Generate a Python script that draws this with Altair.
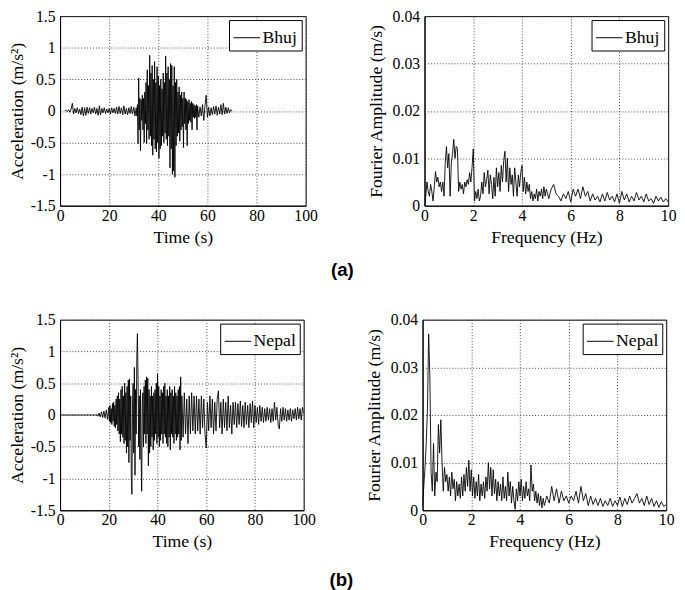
import altair as alt
import pandas as pd

# ---------------- Bhuj acceleration (m/s^2) ----------------
bhuj_acc_seg1_start, bhuj_acc_seg1_step = 2.0, 0.5
bhuj_acc_seg1 = [0.0, 0.01, -0.01, 0.02, -0.02, 0.03, 0.12, -0.05, 0.04, -0.03,
                 0.05, -0.04, 0.03, -0.06, 0.06, -0.08, 0.05, -0.07, 0.06, -0.04,
                 0.05, -0.05, 0.04, -0.03, 0.06, -0.05, 0.04, -0.07, 0.08, -0.06,
                 0.04, -0.03, 0.05, -0.04, 0.03, -0.03, 0.04, -0.05, 0.05, -0.03,
                 0.04, -0.04, 0.06, -0.05, 0.07, -0.04, 0.05, -0.06, 0.08, -0.05,
                 0.04, -0.06, 0.05, -0.04, 0.07, -0.05, 0.06, -0.08]
bhuj_acc_seg2_start, bhuj_acc_seg2_step = 31.0, 0.25
bhuj_acc_seg2 = [0.05, -0.08, 0.1, -0.52, 0.52, -0.3, 0.2, -0.63, 0.18, -0.15,
                 0.25, -0.3, 0.2, -0.5, 0.3, -0.2, 0.45, -0.52, 0.65, -0.3,
                 0.4, -0.45, 0.88, -0.4, 0.6, -0.55, 0.72, -0.7, 0.5, -0.45,
                 0.78, -0.6, 0.45, -0.65, 0.7, -0.5, 0.55, -0.75, 0.4, -0.6,
                 0.5, -0.55, 0.35, -0.4, 0.6, -0.5, 0.45, -0.35, 0.87, -0.45,
                 0.6, -0.55, 0.7, -0.4, 0.5, -0.9, 0.75, -0.6, 0.72, -1.0,
                 0.4, -0.95, 0.7, -1.05, 0.45, -0.55, 0.5, -0.4, 0.3, -0.35,
                 0.38, -0.48, 0.25, -0.3, 0.3, -0.25, 0.2, -0.58, 0.3, -0.2,
                 0.2, -0.3, 0.18, -0.55, 0.15, -0.2, 0.18, -0.15, 0.12, -0.18,
                 0.15, -0.3, 0.12, -0.1, 0.1, -0.12, 0.08, -0.1, 0.1, -0.3]
bhuj_acc_seg3_start, bhuj_acc_seg3_step = 56.0, 0.5
bhuj_acc_seg3 = [0.08, -0.1, 0.06, -0.08, 0.1, -0.15, 0.08, 0.25, -0.1, 0.06,
                 -0.08, 0.05, -0.06, 0.07, -0.05, 0.08, -0.07, 0.06, -0.05, 0.1,
                 -0.06, 0.12, -0.05, 0.06, -0.04, 0.05, -0.03, 0.02, 0.0]

# ---------------- Nepal acceleration (m/s^2) ----------------
nepal_acc_seg0_t = [0.0, 10.0, 14.5]
nepal_acc_seg0 = [0.0, 0.0, 0.0]
nepal_acc_seg1_start, nepal_acc_seg1_step = 15.0, 0.5
nepal_acc_seg1 = [0.01, -0.02, 0.03, -0.03, 0.05, -0.04, 0.06, -0.05, 0.08, -0.07]
nepal_acc_seg2_start, nepal_acc_seg2_step = 20.0, 0.25
nepal_acc_seg2 = [0.12, -0.1, 0.15, -0.12, 0.1, -0.15, 0.18, -0.1, 0.2, -0.18,
                  0.15, -0.2, 0.25, -0.15, 0.3, -0.25, 0.35, -0.3, 0.25, -0.42,
                  0.4, -0.3, 0.45, -0.35, 0.3, -0.45, 0.5, -0.4, 0.35, -0.6,
                  0.45, -0.5, 0.55, -0.75, 0.57, -0.4, 0.3, -1.0, -1.25, 0.2,
                  0.5, -0.6, 0.75, -0.95, 0.4, -0.3, 0.9, 1.28, 0.6, -0.5,
                  0.3, -0.7, 0.4, -0.6, -1.2, 0.2, 0.35, -0.5, 0.45, -0.3,
                  0.55, -0.45, 0.6, -0.3, 0.58, -0.8, 0.4, -0.6, 0.3, -0.5,
                  0.45, -0.35, 0.3, -0.55, 0.35, -0.4, 0.4, -0.3, 0.5, -0.45,
                  0.65, -0.35, 0.45, -0.5, 0.3, -0.4, 0.4, -0.3, 0.35, -0.45,
                  0.45, -0.3, 0.5, -0.35, 0.3, -0.45, 0.4, -0.5, 0.3, -0.35,
                  0.45, -0.55, 0.35, -0.3, 0.4, -0.35, 0.3, -0.45, 0.45, -0.3,
                  0.35, -0.4, 0.3, -0.35, 0.4, -0.3, 0.45, -0.55, 0.6, -0.4]
nepal_acc_seg3_start, nepal_acc_seg3_step = 50.0, 0.5
nepal_acc_seg3 = [0.3, -0.35, 0.35, -0.3, 0.25, -0.45, 0.3, -0.3, 0.35, -0.25,
                  0.3, -0.3, 0.3, -0.25, 0.25, -0.3, 0.3, -0.2, 0.25, -0.3,
                  -0.52, 0.2, -0.25, 0.3, -0.2, 0.25, -0.3, 0.2, -0.25, 0.25,
                  0.38, -0.2, 0.2, -0.3, 0.25, -0.2, 0.2, -0.25, 0.3, -0.2,
                  0.15, -0.3, 0.2, -0.15, 0.2, -0.2, 0.18, -0.15, 0.22, -0.18,
                  0.15, -0.2, 0.2, -0.15, 0.15, -0.2, 0.18, -0.12, 0.22, -0.2,
                  0.15, -0.12, 0.12, -0.15, 0.15, -0.1, 0.12, -0.12, 0.1, -0.1,
                  0.12, -0.08, 0.1, -0.12, 0.1, -0.1, 0.2, -0.08, 0.12, -0.15,
                  -0.22, 0.1, -0.1, 0.12, -0.08, 0.1, -0.1, 0.08, -0.08, 0.1,
                  -0.1, 0.08, -0.06, 0.1, -0.08, 0.12, -0.06, 0.1, -0.08, 0.12,
                  0.02]

# ---------------- Bhuj Fourier amplitude (m/s) ----------------
bhuj_fft_seg1_start, bhuj_fft_seg1_step = 0.0, 0.05
bhuj_fft_seg1 = [0.0, 0.002, 0.005, 0.003, 0.002, 0.0045, 0.003, 0.001, 0.004, 0.0072,
                 0.005, 0.006, 0.004, 0.005, 0.003, 0.005, 0.002, 0.009, 0.0125, 0.008,
                 0.011, 0.002, 0.009, 0.011, 0.014, 0.01, 0.0125, 0.012, 0.003, 0.005,
                 0.0035, 0.0045, 0.0025, 0.005, 0.004, 0.0055, 0.0045, 0.007, 0.005, 0.008,
                 0.012, 0.001, 0.003, 0.0015, 0.0035, 0.001, 0.002, 0.005, 0.0025, 0.007,
                 0.004, 0.0055, 0.0075, 0.0025, 0.0065, 0.0045, 0.0015, 0.006, 0.002, 0.008,
                 0.004, 0.007, 0.003, 0.0085, 0.005, 0.0095, 0.0115, 0.005, 0.01, 0.003,
                 0.008, 0.0045, 0.0065, 0.002, 0.008, 0.005, 0.002, 0.0065, 0.004, 0.007,
                 0.0085, 0.003, 0.006, 0.0025, 0.005, 0.003, 0.0045, 0.0015, 0.003, 0.001,
                 0.0025, 0.0015, 0.0035, 0.001, 0.003, 0.002, 0.0035, 0.0015, 0.004, 0.002]
bhuj_fft_seg2_start, bhuj_fft_seg2_step = 5.0, 0.1
bhuj_fft_seg2 = [0.0035, 0.0015, 0.0035, 0.0045, 0.0025, 0.002, 0.001, 0.0025, 0.0015, 0.003,
                 0.0008, 0.0035, 0.002, 0.0035, 0.0015, 0.004, 0.002, 0.003, 0.001, 0.0025,
                 0.0012, 0.002, 0.0008, 0.0025, 0.001, 0.0028, 0.0012, 0.002, 0.0008, 0.0025,
                 0.0005, 0.003, 0.0012, 0.0025, 0.0008, 0.002, 0.001, 0.0028, 0.0012, 0.002,
                 0.0008, 0.0025, 0.001, 0.0015, 0.0005, 0.002, 0.001, 0.0018, 0.0008, 0.0015,
                 0.0008]

# ---------------- Nepal Fourier amplitude (m/s) ----------------
nepal_fft_seg1_start, nepal_fft_seg1_step = 0.0, 0.05
nepal_fft_seg1 = [0.001, 0.005, 0.009, 0.014, 0.021, 0.037, 0.028, 0.008, 0.004, 0.014,
                  0.003, 0.008, 0.006, 0.018, 0.012, 0.019, 0.01, 0.004, 0.009, 0.006,
                  0.0075, 0.004, 0.007, 0.003, 0.008, 0.0045, 0.0065, 0.002, 0.006, 0.003,
                  0.0055, 0.0025, 0.007, 0.003, 0.0075, 0.004, 0.009, 0.005, 0.0105, 0.004,
                  0.0085, 0.003, 0.007, 0.0025, 0.006, 0.003, 0.0075, 0.002, 0.0055, 0.003,
                  0.006, 0.0025, 0.007, 0.004, 0.01, 0.0045, 0.009, 0.003, 0.0085, 0.0035,
                  0.0065, 0.002, 0.006, 0.003, 0.0055, 0.002, 0.007, 0.0025, 0.005, 0.002,
                  0.008, 0.003, 0.006, 0.0015, 0.005, 0.002, 0.0002, 0.0045, 0.002, 0.006,
                  0.003, 0.0065, 0.002, 0.005, 0.0025, 0.006, 0.003, 0.0045, 0.002, 0.0095,
                  0.004, 0.0055, 0.002, 0.004, 0.0015, 0.0035, 0.001, 0.003, 0.0005, 0.0025]
nepal_fft_seg2_start, nepal_fft_seg2_step = 5.0, 0.1
nepal_fft_seg2 = [0.001, 0.003, 0.0015, 0.005, 0.002, 0.0045, 0.0015, 0.004, 0.002, 0.003,
                  0.0015, 0.003, 0.002, 0.004, 0.0015, 0.005, 0.002, 0.0035, 0.001, 0.003,
                  0.0012, 0.0025, 0.001, 0.0025, 0.0008, 0.002, 0.001, 0.0025, 0.0008, 0.002,
                  0.001, 0.0028, 0.0008, 0.0025, 0.0012, 0.003, 0.0015, 0.0025, 0.0035, 0.0015,
                  0.0025, 0.001, 0.003, 0.0012, 0.0025, 0.0008, 0.002, 0.0006, 0.0018, 0.0008,
                  0.0012]


def grid(start, step, vals):
    return [round(start + i * step, 4) for i in range(len(vals))]


bhuj_acc_t = (grid(bhuj_acc_seg1_start, bhuj_acc_seg1_step, bhuj_acc_seg1)
              + grid(bhuj_acc_seg2_start, bhuj_acc_seg2_step, bhuj_acc_seg2)
              + grid(bhuj_acc_seg3_start, bhuj_acc_seg3_step, bhuj_acc_seg3))
bhuj_acc = bhuj_acc_seg1 + bhuj_acc_seg2 + bhuj_acc_seg3

nepal_acc_t = (nepal_acc_seg0_t
               + grid(nepal_acc_seg1_start, nepal_acc_seg1_step, nepal_acc_seg1)
               + grid(nepal_acc_seg2_start, nepal_acc_seg2_step, nepal_acc_seg2)
               + grid(nepal_acc_seg3_start, nepal_acc_seg3_step, nepal_acc_seg3))
nepal_acc = nepal_acc_seg0 + nepal_acc_seg1 + nepal_acc_seg2 + nepal_acc_seg3

bhuj_f = (grid(bhuj_fft_seg1_start, bhuj_fft_seg1_step, bhuj_fft_seg1)
          + grid(bhuj_fft_seg2_start, bhuj_fft_seg2_step, bhuj_fft_seg2))
bhuj_fft = bhuj_fft_seg1 + bhuj_fft_seg2
nepal_f = (grid(nepal_fft_seg1_start, nepal_fft_seg1_step, nepal_fft_seg1)
           + grid(nepal_fft_seg2_start, nepal_fft_seg2_step, nepal_fft_seg2))
nepal_fft = nepal_fft_seg1 + nepal_fft_seg2

acc_ticks_x = [0, 20, 40, 60, 80, 100]
acc_ticks_y = [-1.5, -1, -0.5, 0, 0.5, 1, 1.5]
fft_ticks_x = [0, 2, 4, 6, 8, 10]
fft_ticks_y = [0, 0.01, 0.02, 0.03, 0.04]

SERIF = "Liberation Serif"
LBL = "'' + datum.value"


def axis(vals, title, lp, tp):
    return alt.Axis(values=vals, title=title, labelExpr=LBL, labelFlush=False,
                    labelOverlap=False,
                    labelFont=SERIF, titleFont=SERIF, labelFontSize=16,
                    titleFontSize=18, titleFontWeight="normal",
                    labelColor="black", titleColor="black", domainColor="black",
                    ticks=False, grid=True, gridColor="#444444",
                    gridDash=[1, 2], gridWidth=1, gridOpacity=1,
                    labelPadding=lp, titlePadding=tp)


def legend():
    return alt.Legend(orient="top-right", offset=4, symbolType="stroke",
                      symbolStrokeWidth=1, symbolSize=729, labelFont=SERIF,
                      labelFontSize=18, labelColor="black", labelOffset=2,
                      strokeColor="black", fillColor="white", padding=4,
                      cornerRadius=0, rowPadding=0)


def panel(x, y, name, xdom, ydom, xt, yt, xtitle, ytitle, ytp, w, h):
    df = pd.DataFrame({"x": x, "y": y, "s": name})
    return alt.Chart(df).mark_line(strokeWidth=0.9, clip=True).encode(
        x=alt.X("x:Q", scale=alt.Scale(domain=xdom, nice=False, zero=False),
                axis=axis(xt, xtitle, 2, 5)),
        y=alt.Y("y:Q", scale=alt.Scale(domain=ydom, nice=False, zero=False),
                axis=axis(yt, ytitle, 5, ytp)),
        color=alt.Color("s:N", scale=alt.Scale(range=["black"]), title=None,
                        legend=legend()),
        order=alt.Order("x:Q"),
    ).properties(width=w, height=h)


acc_title = "Acceleration (m/s\u00b2)"
fft_title = "Fourier Amplitude (m/s)"

p1 = panel(bhuj_acc_t, bhuj_acc, "Bhuj", [0, 100], [-1.5, 1.5], acc_ticks_x,
           acc_ticks_y, "Time (s)", acc_title, 4, 250, 193)
p2 = panel(bhuj_f, bhuj_fft, "Bhuj", [0, 10], [0, 0.04], fft_ticks_x,
           fft_ticks_y, "Frequency (Hz)", fft_title, 7, 248, 193)
p3 = panel(nepal_acc_t, nepal_acc, "Nepal", [0, 100], [-1.5, 1.5], acc_ticks_x,
           acc_ticks_y, "Time (s)", acc_title, 4, 248, 194)
p4 = panel(nepal_f, nepal_fft, "Nepal", [0, 10], [0, 0.04], fft_ticks_x,
           fft_ticks_y, "Frequency (Hz)", fft_title, 7, 248, 194)


def row_title(t, off):
    return alt.TitleParams(text=t, orient="bottom", anchor="middle",
                           font="Liberation Sans", fontSize=19,
                           fontWeight="bold", color="black", offset=off)


row1 = alt.hconcat(p1, p2, spacing=49).resolve_scale(color="independent").properties(
    title=row_title("(a)", 15))
row2 = alt.hconcat(p3, p4, spacing=49).resolve_scale(color="independent").properties(
    title=row_title("(b)", 21))

chart = alt.vconcat(row1, row2, spacing=31).resolve_scale(
    color="independent").properties(
    padding={"left": 0, "top": -6, "right": 0, "bottom": 0}
).configure_view(stroke="black", strokeWidth=1)

chart.save("out.html", embed_options={"renderer": "svg", "actions": False})
